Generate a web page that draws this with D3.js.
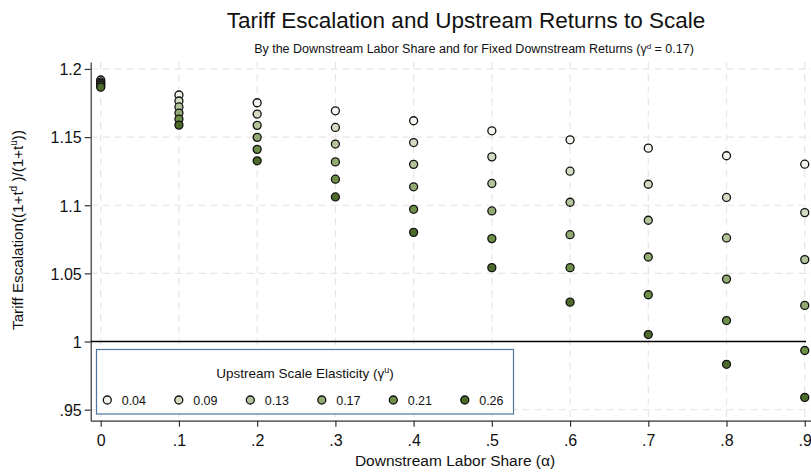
<!DOCTYPE html>
<html>
<head>
<meta charset="utf-8">
<script src="https://cdn.jsdelivr.net/npm/d3@7"></script>
<style>
body { margin: 0; background: #fff; }
svg text { font-family: "Liberation Sans", Arial, Helvetica, sans-serif; fill: #111; }
.grid line { stroke: #e6e6e6; stroke-dasharray: 7,5; stroke-width: 1.2; }
.axis path, .axis line { stroke: #333; stroke-width: 1.2; }
</style>
</head>
<body>
<svg id="chart" width="811" height="472"></svg>
<script>
"use strict";

// downstream labor share (x)
var alphas = [0, 0.1, 0.2, 0.3, 0.4, 0.5, 0.6, 0.7, 0.8, 0.9];
// upstream scale elasticity (series)
var gammaLabels = ["0.04", "0.09", "0.13", "0.17", "0.21", "0.26"];
var gammaColors = ["#f3f4ee", "#d3dcc3", "#b3c49b", "#92ab72", "#6d8f47", "#4c6a2a"];

// tariff escalation, one array per series
var esc004 = [1.1919, 1.1809, 1.1752, 1.1693, 1.1620, 1.1546, 1.1480, 1.1419, 1.1363, 1.1301];
var esc009 = [1.1905, 1.1765, 1.1669, 1.1571, 1.1460, 1.1355, 1.1250, 1.1154, 1.1057, 1.0946];
var esc013 = [1.1895, 1.1721, 1.1586, 1.1449, 1.1300, 1.1160, 1.1022, 1.0890, 1.0760, 1.0601];
var esc017 = [1.1885, 1.1676, 1.1498, 1.1318, 1.1135, 1.0958, 1.0784, 1.0620, 1.0458, 1.0265];
var esc021 = [1.1877, 1.1632, 1.1410, 1.1191, 1.0970, 1.0755, 1.0542, 1.0343, 1.0154, 0.9934];
var esc026 = [1.1866, 1.1588, 1.1326, 1.1061, 1.0801, 1.0542, 1.0289, 1.0051, 0.9833, 0.9590];
var seriesValues = [esc004, esc009, esc013, esc017, esc021, esc026];

var xTicks = [0, 0.1, 0.2, 0.3, 0.4, 0.5, 0.6, 0.7, 0.8, 0.9];
var yTicks = [0.95, 1, 1.05, 1.1, 1.15, 1.2];

var svg = d3.select("#chart");
var pLeft = 90.7, pRight = 811, pTop = 62, pBottom = 420.7;

var x = d3.scaleLinear().domain([-0.0128, 0.908]).range([pLeft, pRight]);
var y = d3.scaleLinear().domain([0.9419, 1.2051]).range([pBottom, pTop]);

// format ticks like stata: 0, .1, ..., 1.05
function fmt(v) {
	var s = String(+v.toFixed(2));
	return s.replace(/^0\./, ".");
}

// gridlines
var grid = svg.append("g").classed("grid", true);
grid.selectAll(".gy").data(yTicks).enter().append("line")
	.attr("x1", pLeft).attr("x2", pRight)
	.attr("y1", d=>y(d)).attr("y2", d=>y(d));
grid.selectAll(".gx").data(xTicks).enter().append("line")
	.attr("x1", d=>x(d)).attr("x2", d=>x(d))
	.attr("y1", pTop).attr("y2", pBottom);

// axes
var xaxis = d3.axisBottom(x).tickValues(xTicks).tickFormat(fmt).tickSize(6).tickSizeOuter(0);
var yaxis = d3.axisLeft(y).tickValues(yTicks).tickFormat(fmt).tickSize(6).tickSizeOuter(0);
var gx = svg.append("g").classed("axis", true)
	.attr("transform", `translate(0, ${pBottom})`).call(xaxis);
var gy = svg.append("g").classed("axis", true)
	.attr("transform", `translate(${pLeft}, 0)`).call(yaxis);
gx.selectAll("text").attr("font-size", 16).attr("dy", "1.05em");
gy.selectAll("text").attr("font-size", 16).attr("dy", "0.36em").attr("x", -9);

// reference line at 1
svg.append("line")
	.attr("x1", pLeft).attr("x2", 806)
	.attr("y1", y(1)).attr("y2", y(1))
	.attr("stroke", "#000").attr("stroke-width", 1.5);

// points
var pts = svg.append("g");
seriesValues.forEach((vals, si)=>{
	pts.selectAll(".s" + si).data(vals).enter().append("circle")
		.attr("cx", (d, i)=>x(alphas[i]))
		.attr("cy", d=>y(d))
		.attr("r", 4)
		.attr("fill", gammaColors[si])
		.attr("stroke", "#111")
		.attr("stroke-width", 1.3);
});

// legend
var lg = svg.append("g");
lg.append("rect")
	.attr("x", 96.5).attr("y", 349.5).attr("width", 417).attr("height", 64.5)
	.attr("fill", "#fff").attr("stroke", "#4f77a0").attr("stroke-width", 1.2);
var lt = lg.append("text").attr("x", 305).attr("y", 377.5)
	.attr("text-anchor", "middle").attr("font-size", 13.5);
lt.append("tspan").text("Upstream Scale Elasticity (γ");
lt.append("tspan").text("u").attr("font-size", 9).attr("dy", -5);
lt.append("tspan").text(")").attr("dy", 5);
gammaLabels.forEach((lab, i)=>{
	var cx = 107.3 + i * 71.5;
	lg.append("circle").attr("cx", cx).attr("cy", 400).attr("r", 4)
		.attr("fill", gammaColors[i]).attr("stroke", "#111").attr("stroke-width", 1.3);
	lg.append("text").attr("x", cx + 14.4).attr("y", 404.5)
		.attr("font-size", 12.5).text(lab);
});

// titles
svg.append("text").attr("x", 466).attr("y", 28)
	.attr("text-anchor", "middle").attr("font-size", 22.5)
	.text("Tariff Escalation and Upstream Returns to Scale");
var st = svg.append("text").attr("x", 474).attr("y", 53)
	.attr("text-anchor", "middle").attr("font-size", 12.5);
st.append("tspan").text("By the Downstream Labor Share and for Fixed Downstream Returns (γ");
st.append("tspan").text("d").attr("font-size", 8).attr("dy", -4);
st.append("tspan").text(" = 0.17)").attr("dy", 4);

svg.append("text").attr("x", 455).attr("y", 466)
	.attr("text-anchor", "middle").attr("font-size", 15.5)
	.text("Downstream Labor Share (α)");

var yt = svg.append("text")
	.attr("transform", "translate(23, 230) rotate(-90)")
	.attr("text-anchor", "middle").attr("font-size", 15.2);
yt.append("tspan").text("Tariff Escalation((1+t");
yt.append("tspan").text("d").attr("font-size", 10).attr("dy", -6);
yt.append("tspan").text(" )/(1+t").attr("dy", 6);
yt.append("tspan").text("u").attr("font-size", 10).attr("dy", -6);
yt.append("tspan").text("))").attr("dy", 6);
</script>
</body>
</html>
